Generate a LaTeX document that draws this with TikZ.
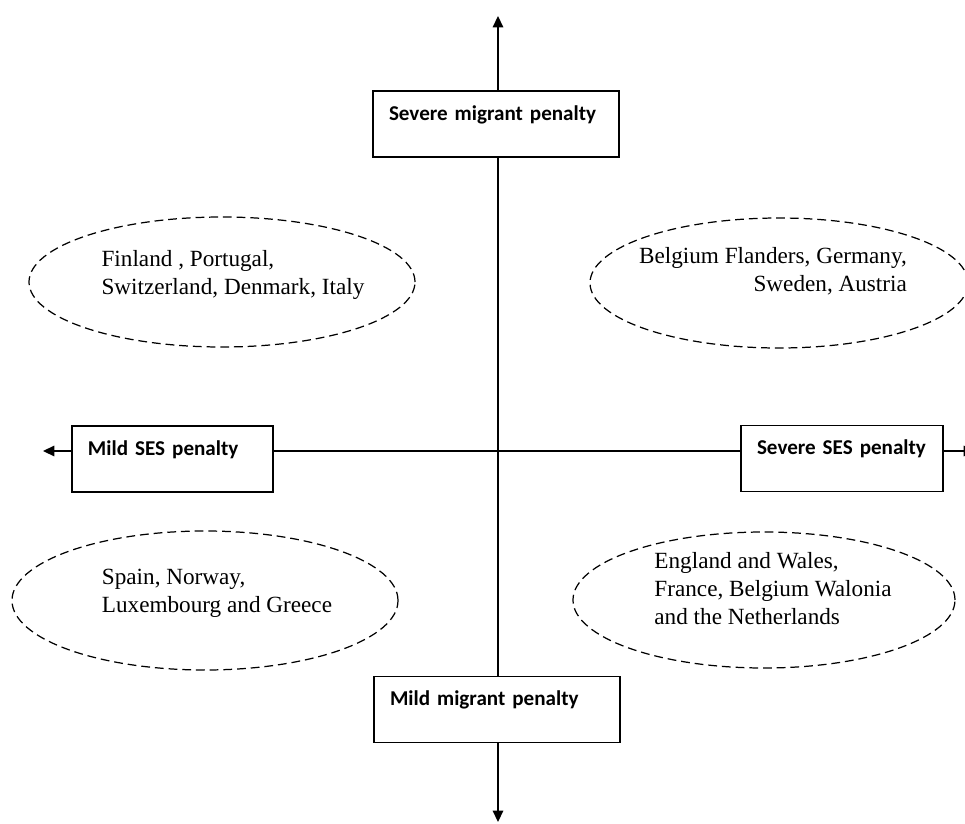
\documentclass[tikz,border=0pt]{standalone}
\usepackage{fontspec}
\setmainfont{Liberation Serif}
\newfontfamily\calibri{Carlito}
\usetikzlibrary{arrows.meta, shapes.geometric}

\begin{document}
\begin{tikzpicture}[
  axbox/.style={rectangle, draw=black, line width=0.9pt, fill=white,
    inner xsep=9pt, inner ysep=0pt, text height=16.7pt, text depth=20.7pt,
    align=left, font=\calibri\bfseries\fontsize{12}{14}\selectfont},
  region/.style={ellipse, draw=black, line width=0.7pt,
    dash pattern=on 5pt off 2.8pt, inner sep=0pt,
    font=\fontsize{13.2}{16}\selectfont},
  axis/.style={-{Triangle[length=6.5pt, width=6pt]}, line width=0.9pt},
  link/.style={line width=0.9pt}
]
  \useasboundingbox (0,0) rectangle (19.3,-16.48);

  \coordinate (ntip) at (9.96,-0.32);
  \coordinate (stip) at (9.96,-16.44);
  \coordinate (wtip) at (0.86,-9.02);
  \coordinate (etip) at (19.5,-9.02);

  \node[axbox, text width=4.28cm] (sevmig) at (9.92,-2.48) {Severe migrant penalty};
  \node[axbox, text width=4.28cm] (milmig) at (9.94,-14.19) {Mild migrant penalty};
  \node[axbox, text width=3.38cm] (milses) at (3.45,-9.18) {Mild SES penalty};
  \node[axbox, text width=3.40cm] (sevses) at (16.84,-9.17) {Severe SES penalty};

  \node[region, minimum width=7.72cm, minimum height=2.6cm] (nw) at (4.44,-5.64)
    {\raisebox{4pt}[\height][\depth]{\makebox[0pt]{\hspace*{0.44cm}\begin{tabular}{@{}l@{}}Finland , Portugal,\\Switzerland, Denmark, Italy\end{tabular}}}};
  \node[region, minimum width=7.56cm, minimum height=2.6cm] (ne) at (15.58,-5.66)
    {\raisebox{6.5pt}[\height][\depth]{\makebox[0pt]{\begin{tabular}{@{}r@{}}Belgium Flanders, Germany,\\Sweden, Austria\end{tabular}\hspace*{0.24cm}}}};
  \node[region, minimum width=7.72cm, minimum height=2.78cm] (sw) at (4.10,-12.01)
    {\raisebox{4.5pt}[\height][\depth]{\makebox[0pt]{\hspace*{0.48cm}\begin{tabular}{@{}l@{}}Spain, Norway,\\Luxembourg and Greece\end{tabular}}}};
  \node[region, minimum width=7.64cm, minimum height=2.72cm] (se) at (15.28,-12.00)
    {\raisebox{5pt}[\height][\depth]{\makebox[0pt]{\hspace*{0.36cm}\begin{tabular}{@{}l@{}}England and Wales,\\France, Belgium Walonia\\and the Netherlands\end{tabular}}}};

  \draw[axis] (sevmig.north -| ntip) -- (ntip);
  \draw[link] (sevmig.south -| ntip) -- (milmig.north -| ntip);
  \draw[axis] (milmig.south -| stip) -- (stip);

  \draw[axis] (milses.west |- wtip) -- (wtip);
  \draw[link] (milses.east |- wtip) -- (sevses.west |- wtip);
  \draw[axis] (sevses.east |- etip) -- (etip);
\end{tikzpicture}
\end{document}
